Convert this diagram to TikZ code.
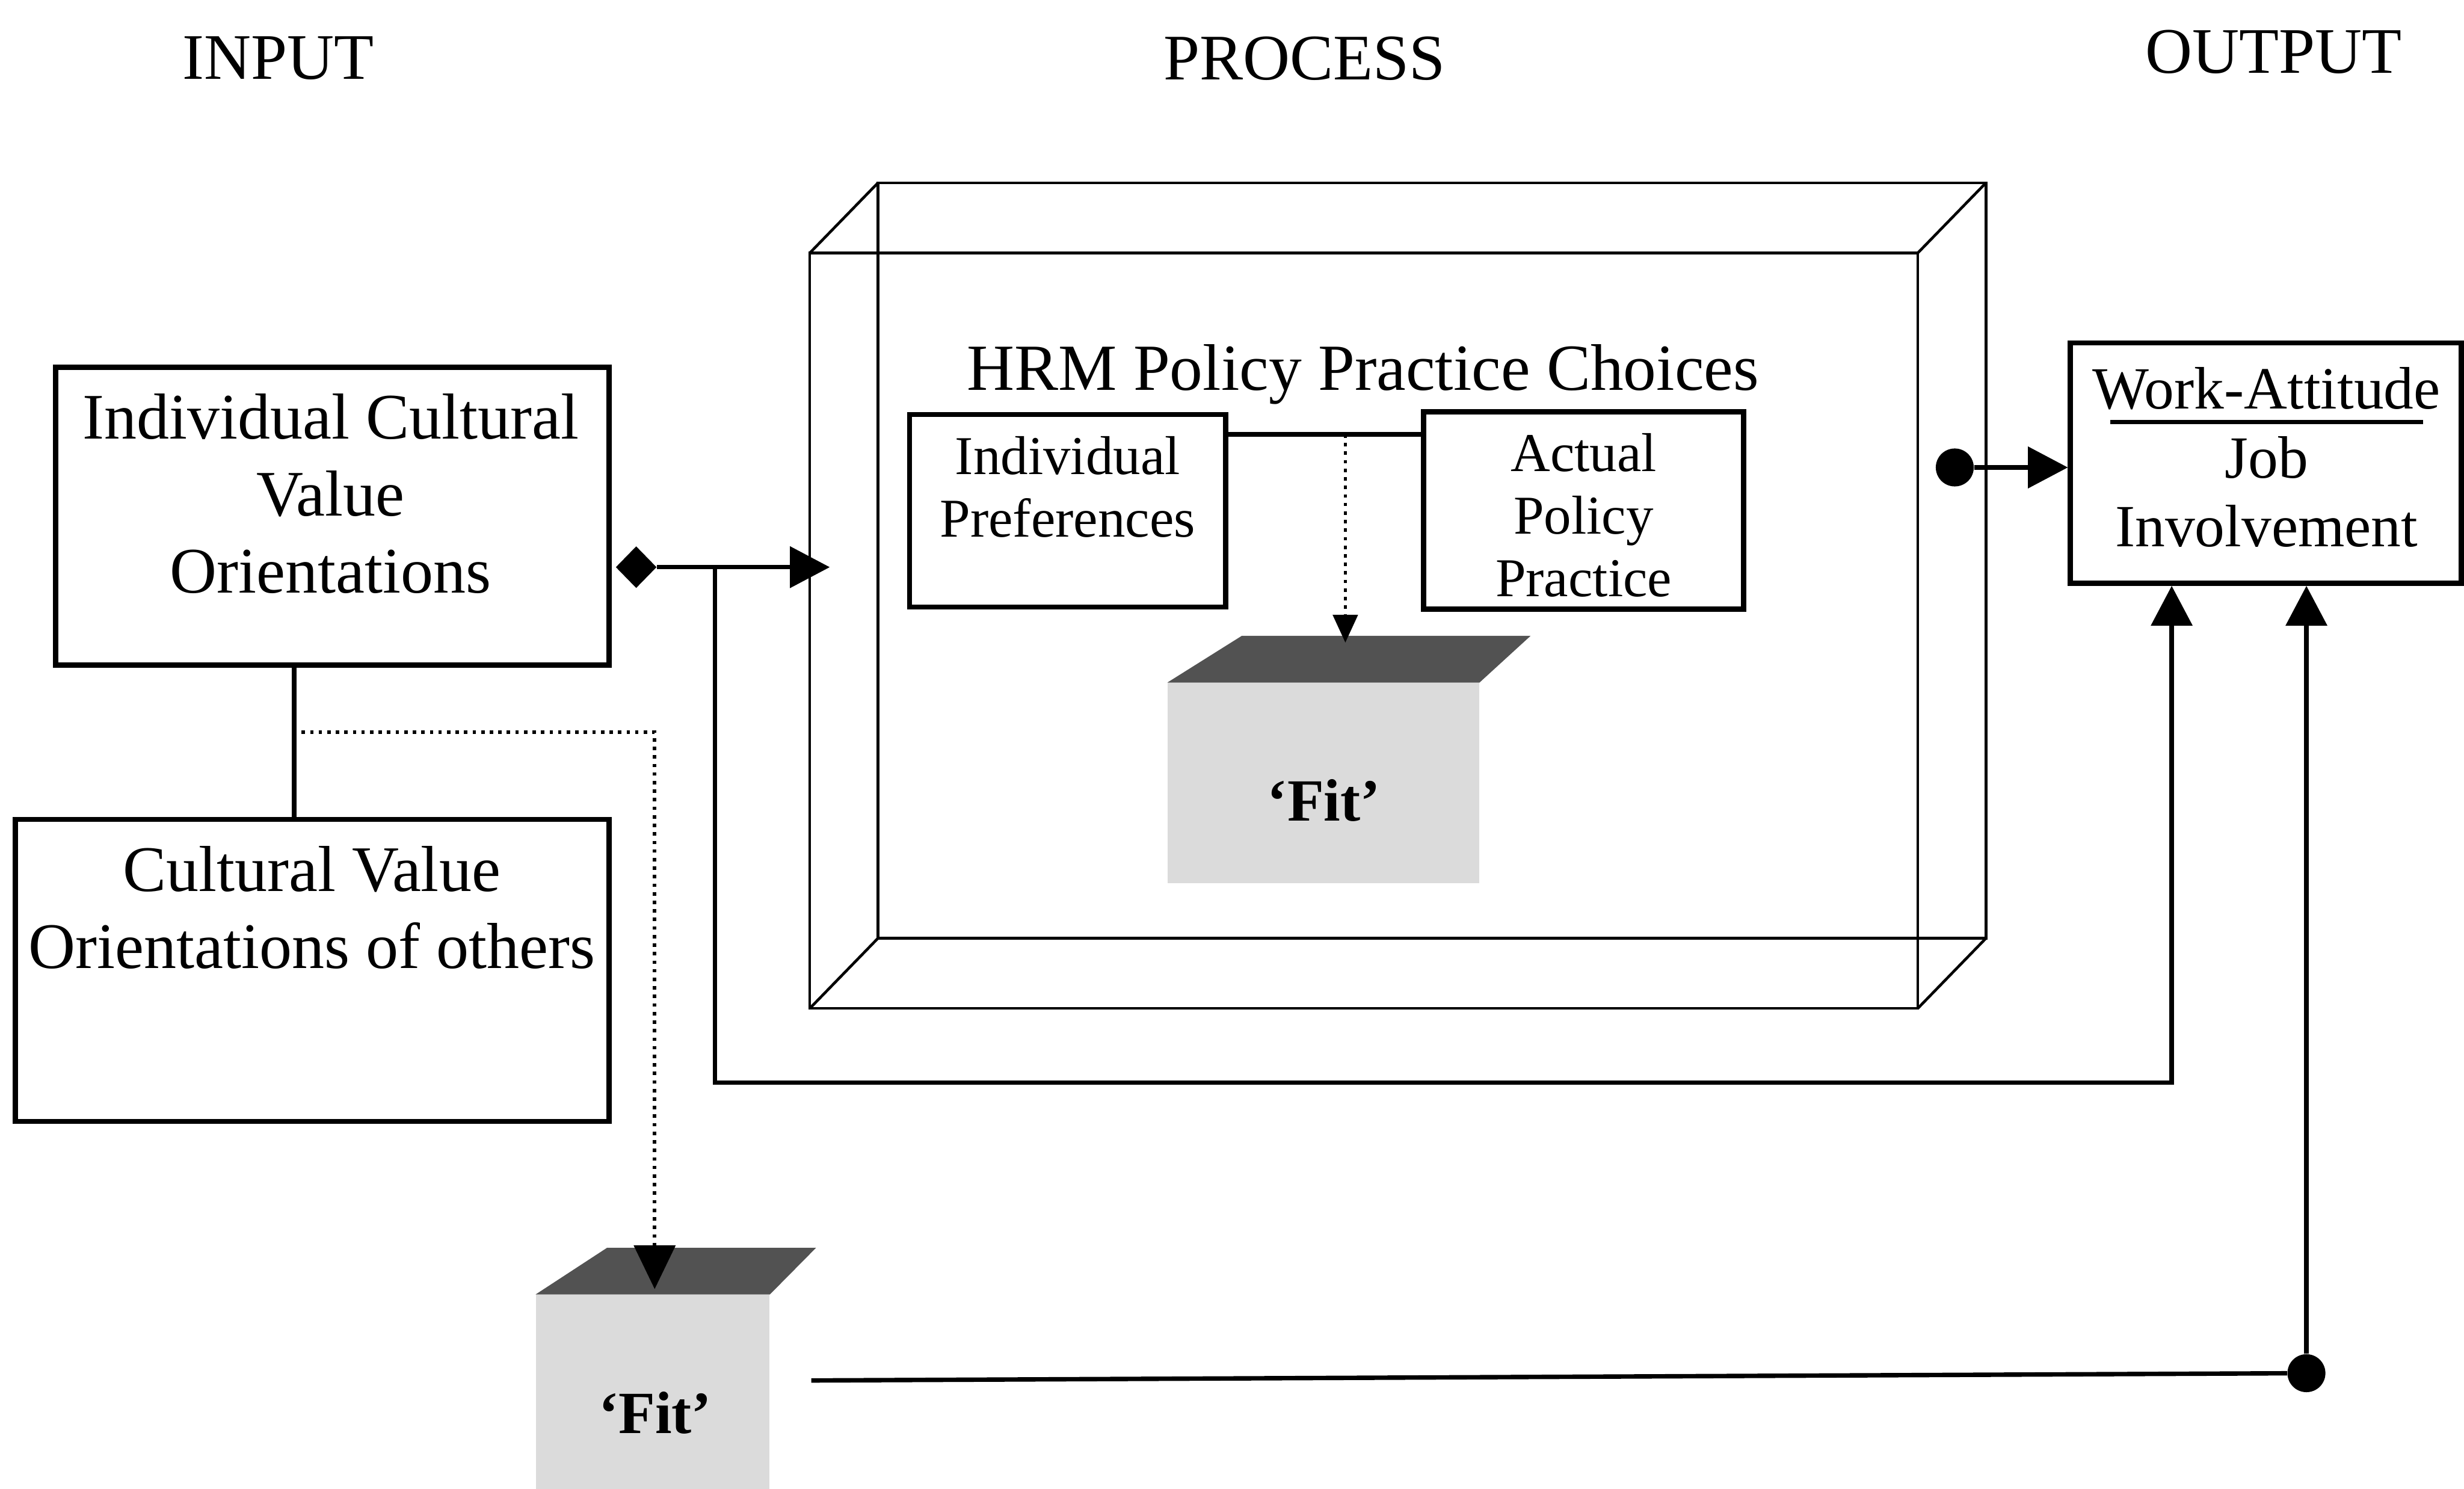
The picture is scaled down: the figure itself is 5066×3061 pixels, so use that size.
\documentclass[tikz,border=0pt]{standalone}
\usepackage{fontspec}
\setmainfont{Liberation Serif}
\usetikzlibrary{arrows.meta,shapes.geometric}
\begin{document}
\begin{tikzpicture}[x=0.01cm,y=-0.01cm,
  box/.style={draw, line width=3pt, inner sep=0pt},
  conn/.style={line width=2.6pt},
  tipA/.style={-{Triangle[length=0.82cm,width=0.84cm]}},
  tipB/.style={-{Triangle[length=0.9cm,width=0.85cm]}},
  tipS/.style={-{Triangle[length=0.57cm,width=0.51cm]}},
  dotl/.style={line width=2pt, dash pattern=on 2pt off 3pt},
  wire/.style={line width=1.6pt},
  tbig/.style={font=\fontsize{38}{45}\selectfont, align=center, inner sep=0pt},
  tmid/.style={font=\fontsize{32}{36.5}\selectfont, align=center, inner sep=0pt},
  twork/.style={font=\fontsize{35}{40}\selectfont, align=center, inner sep=0pt},
  tfit/.style={font=\fontsize{35}{40}\selectfont\bfseries, inner sep=0pt},
  dot/.style={circle, fill, inner sep=0pt, minimum size=0.78cm},
  face/.style={fill=black!14, inner sep=0pt},
  topface/.style={fill=black!68},
]
\useasboundingbox (0,0) rectangle (5066,3061);

% headings
\node[tbig] (hin) at (572,120) {INPUT};
\node[tbig] (hpr) at (2682,120) {PROCESS};
\node[tbig] (hout) at (4675,107) {OUTPUT};

% 3D wire frame
\coordinate (F1) at (1665,520);
\coordinate (F2) at (3943,520);
\coordinate (F3) at (3943,2073);
\coordinate (F4) at (1665,2073);
\coordinate (B1) at (1805,376);
\coordinate (B2) at (4083,376);
\coordinate (B3) at (4083,1929);
\coordinate (B4) at (1805,1929);
\draw[wire] (F1) rectangle (F3);
\draw[wire] (B1) rectangle (B3);
\draw[wire] (F1) -- (B1) (F2) -- (B2) (F3) -- (B3) (F4) -- (B4);

% process contents
\node[tbig, font=\fontsize{38.5}{45}\selectfont] (hrm) at (2802,770) {HRM Policy Practice Choices};
\node[box, minimum width=6.5cm, minimum height=3.96cm] (ip) at (2195,1050) {};
\node[tmid] (ipt) at (2195,1001) {Individual\\Preferences};
\node[box, minimum width=6.58cm, minimum height=4.05cm] (ap) at (3256,1049.5) {};
\node[tmid] (apt) at (3256,1059) {Actual\\Policy\\Practice};

\node[face, minimum width=6.4cm, minimum height=4.12cm] (fit1) at (2721,1610) {};
\fill[topface] (fit1.north west) -- ([shift={(153,-96)}]fit1.north west) -- ([shift={(105,-96)}]fit1.north east) -- (fit1.north east) -- cycle;
\node[tfit] (fit1t) at (2722,1646) {‘Fit’};

\coordinate (lnk) at (2766,893);
\coordinate (f1tip) at (2766,1321);
\draw[conn] (ip.east |- lnk) -- (ap.west |- lnk);
\draw[line width=1.5pt, dash pattern=on 2pt off 3pt, tipS] (lnk) -- (f1tip);

% input boxes
\node[box, minimum width=11.37cm, minimum height=6.12cm] (b1) at (683.5,1061) {};
\node[tbig] (b1t) at (680,1015) {Individual Cultural\\Value\\Orientations};
\node[box, minimum width=12.2cm, minimum height=6.2cm] (b2) at (642,1995) {};
\node[tbig] (b2t) at (641,1866) {Cultural Value\\Orientations of others};
\coordinate (v12) at (605,1367);
\draw[conn] (v12 |- b1.south) -- (v12 |- b2.north);

% output box
\node[box, minimum width=8.03cm, minimum height=4.94cm] (wk) at (4658.5,952) {};
\node[twork] (wkt1) at (4660,799) {Work-Attitude};
\draw[line width=2.4pt] (4339,868) -- (4982,868);
\node[twork] (wkt2) at (4660,1011) {Job\\Involvement};

% bottom fit
\node[face, minimum width=4.8cm, minimum height=3.99cm] (fit2) at (1342,2861.5) {};
\fill[topface] (fit2.north west) -- ([shift={(147,-96)}]fit2.north west) -- ([shift={(95,-96)}]fit2.north east) -- (fit2.north east) -- cycle;
\node[tfit] (fit2t) at (1347,2905) {‘Fit’};

% dotted connector to bottom fit
\coordinate (ds) at (620,1505);
\coordinate (dc) at (1346,1505);
\coordinate (f2tip) at (1346,2650);
\draw[dotl, tipB] (ds) -- (dc) -- (f2tip);

% diamond arrow into process
\node[diamond, fill, inner sep=0pt, minimum width=0.84cm, minimum height=0.86cm] (dm) at (1308,1166) {};
\coordinate (inA) at (1706,1166);
\draw[conn, tipA] (dm.east) -- (inA);
\coordinate (br) at (1470,1166);
\coordinate (lpL) at (1470,2226);
\coordinate (lpR) at (4465,2226);
\draw[conn, tipA] (br) -- (lpL) -- (lpR) -- (lpR |- wk.south);

% process to output
\node[dot] (d1) at (4019,961) {};
\draw[conn, tipA] (d1) -- (d1 -| wk.west);

% bottom fit to output
\node[dot] (d2) at (4742,2823) {};
\coordinate (f2out) at (1668,2838);
\draw[conn] (f2out) -- (d2);
\draw[conn, tipA] (d2) -- (d2 |- wk.south);
\end{tikzpicture}
\end{document}
